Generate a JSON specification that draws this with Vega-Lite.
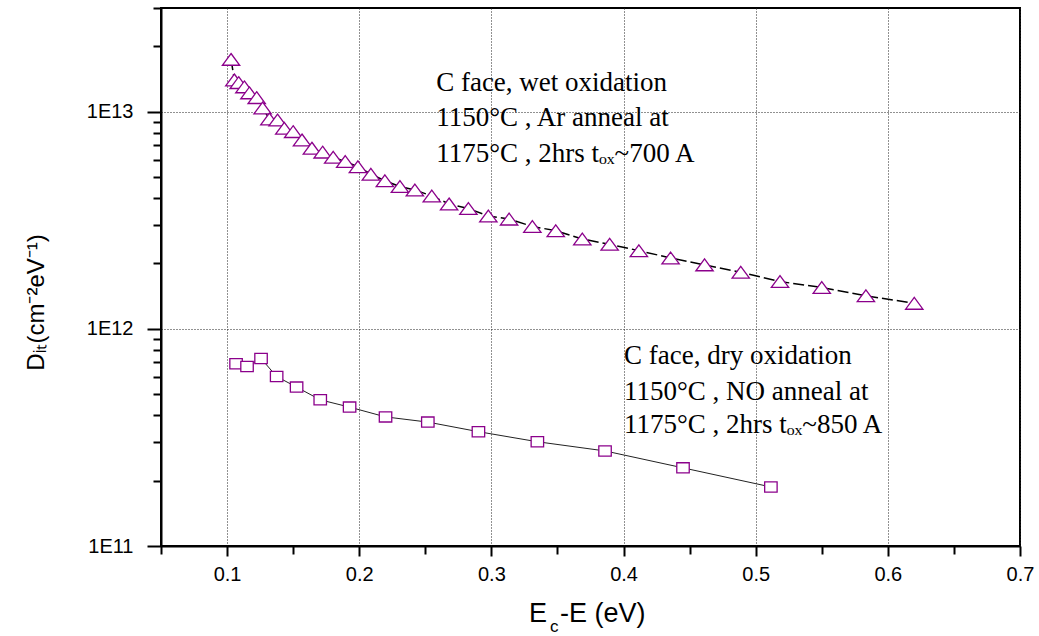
{
  "$schema": "https://vega.github.io/schema/vega-lite/v6.json",
  "width": 859,
  "height": 538,
  "autosize": {"type": "none"},
  "padding": {"left": 161, "top": 8, "right": 19, "bottom": 90},
  "background": "white",
  "config": {
    "view": {"stroke": "black", "strokeWidth": 2},
    "axis": {
      "domainColor": "black",
      "domainWidth": 2,
      "tickColor": "black",
      "tickWidth": 2,
      "labelFont": "Liberation Sans",
      "labelFontSize": 20,
      "labelColor": "black",
      "gridColor": "#222",
      "gridDash": [1, 2],
      "gridWidth": 1
    }
  },
  "datasets": {
    "dit": [
      {"series": "wet", "E": 0.1030, "Dit": 1.74e13},
      {"series": "wet", "E": 0.1055, "Dit": 1.40e13},
      {"series": "wet", "E": 0.1088, "Dit": 1.36e13},
      {"series": "wet", "E": 0.1131, "Dit": 1.30e13},
      {"series": "wet", "E": 0.1169, "Dit": 1.22e13},
      {"series": "wet", "E": 0.1224, "Dit": 1.16e13},
      {"series": "wet", "E": 0.1269, "Dit": 1.04e13},
      {"series": "wet", "E": 0.1320, "Dit": 9.25e12},
      {"series": "wet", "E": 0.1382, "Dit": 9.16e12},
      {"series": "wet", "E": 0.1433, "Dit": 8.39e12},
      {"series": "wet", "E": 0.1500, "Dit": 8.09e12},
      {"series": "wet", "E": 0.1567, "Dit": 7.41e12},
      {"series": "wet", "E": 0.1642, "Dit": 6.79e12},
      {"series": "wet", "E": 0.1723, "Dit": 6.51e12},
      {"series": "wet", "E": 0.1803, "Dit": 6.17e12},
      {"series": "wet", "E": 0.1894, "Dit": 5.89e12},
      {"series": "wet", "E": 0.1990, "Dit": 5.58e12},
      {"series": "wet", "E": 0.2088, "Dit": 5.15e12},
      {"series": "wet", "E": 0.2194, "Dit": 4.81e12},
      {"series": "wet", "E": 0.2308, "Dit": 4.52e12},
      {"series": "wet", "E": 0.2421, "Dit": 4.36e12},
      {"series": "wet", "E": 0.2549, "Dit": 4.09e12},
      {"series": "wet", "E": 0.2680, "Dit": 3.76e12},
      {"series": "wet", "E": 0.2826, "Dit": 3.58e12},
      {"series": "wet", "E": 0.2977, "Dit": 3.31e12},
      {"series": "wet", "E": 0.3134, "Dit": 3.20e12},
      {"series": "wet", "E": 0.3310, "Dit": 2.96e12},
      {"series": "wet", "E": 0.3487, "Dit": 2.83e12},
      {"series": "wet", "E": 0.3688, "Dit": 2.59e12},
      {"series": "wet", "E": 0.3895, "Dit": 2.45e12},
      {"series": "wet", "E": 0.4116, "Dit": 2.29e12},
      {"series": "wet", "E": 0.4356, "Dit": 2.12e12},
      {"series": "wet", "E": 0.4613, "Dit": 1.97e12},
      {"series": "wet", "E": 0.4887, "Dit": 1.82e12},
      {"series": "wet", "E": 0.5184, "Dit": 1.65e12},
      {"series": "wet", "E": 0.5500, "Dit": 1.55e12},
      {"series": "wet", "E": 0.5834, "Dit": 1.42e12},
      {"series": "wet", "E": 0.6200, "Dit": 1.31e12},
      {"series": "dry", "E": 0.1068, "Dit": 6.90e11},
      {"series": "dry", "E": 0.1151, "Dit": 6.71e11},
      {"series": "dry", "E": 0.1257, "Dit": 7.30e11},
      {"series": "dry", "E": 0.1375, "Dit": 6.03e11},
      {"series": "dry", "E": 0.1526, "Dit": 5.39e11},
      {"series": "dry", "E": 0.1705, "Dit": 4.71e11},
      {"series": "dry", "E": 0.1927, "Dit": 4.36e11},
      {"series": "dry", "E": 0.2199, "Dit": 3.93e11},
      {"series": "dry", "E": 0.2519, "Dit": 3.72e11},
      {"series": "dry", "E": 0.2902, "Dit": 3.36e11},
      {"series": "dry", "E": 0.3348, "Dit": 3.02e11},
      {"series": "dry", "E": 0.3860, "Dit": 2.74e11},
      {"series": "dry", "E": 0.4450, "Dit": 2.29e11},
      {"series": "dry", "E": 0.5115, "Dit": 1.87e11}
    ],
    "notes": [
      {"E": 0.2582, "Dit": 1.246e13, "t": "C face, wet oxidation"},
      {"E": 0.2582, "Dit": 8.55e12, "t": "1150°C , Ar anneal at"},
      {"E": 0.2582, "Dit": 5.87e12, "t": "1175°C , 2hrs tₒₓ~700 A"},
      {"E": 0.4003, "Dit": 6.88e11, "t": "C face, dry oxidation"},
      {"E": 0.4003, "Dit": 4.71e11, "t": "1150°C , NO anneal at"},
      {"E": 0.4003, "Dit": 3.31e11, "t": "1175°C , 2hrs tₒₓ~850 A"}
    ],
    "xtitle": [
      {"part": "main1", "E": 0.3284, "Dit": 1e11, "t": "E"},
      {"part": "sub", "E": 0.3443, "Dit": 1e11, "t": "c"},
      {"part": "main2", "E": 0.3519, "Dit": 1e11, "t": "-E (eV)"}
    ]
  },
  "encoding": {
    "x": {
      "field": "E",
      "type": "quantitative",
      "scale": {"domain": [0.05, 0.7], "nice": false, "zero": false},
      "axis": {
        "title": null,
        "values": [0.05, 0.1, 0.15, 0.2, 0.25, 0.3, 0.35, 0.4, 0.45, 0.5, 0.55, 0.6, 0.65, 0.7],
        "labelExpr": "(abs(datum.value*10 - round(datum.value*10)) < 0.01 && datum.value > 0.07) ? format(datum.value, '.1f') : ''",
        "grid": true,
        "gridOpacity": {"condition": {"test": "abs(datum.value*10 - round(datum.value*10)) < 0.01", "value": 1}, "value": 0},
        "tickSize": {"condition": {"test": "abs(datum.value*10 - round(datum.value*10)) < 0.01", "value": 10}, "value": 8},
        "labelPadding": 8,
        "labelFlush": false,
        "labelOverlap": false
      }
    },
    "y": {
      "field": "Dit",
      "type": "quantitative",
      "scale": {"type": "log", "domain": [1e11, 3e13], "nice": false},
      "axis": {
        "title": "Dᵢₜ(cm⁻²eV⁻¹)",
        "titleFont": "Liberation Sans",
        "titleFontSize": 24,
        "titleFontWeight": "normal",
        "titleColor": "black",
        "titleAngle": 270,
        "titleAlign": "center",
        "titleBaseline": "alphabetic",
        "titleX": -118,
        "titleY": 294,
        "values": [1e11, 2e11, 3e11, 4e11, 5e11, 6e11, 7e11, 8e11, 9e11, 1e12, 2e12, 3e12, 4e12, 5e12, 6e12, 7e12, 8e12, 9e12, 1e13, 2e13, 3e13],
        "labelExpr": "datum.value == 1e11 ? '1E11' : datum.value == 1e12 ? '1E12' : datum.value == 1e13 ? '1E13' : ''",
        "grid": true,
        "gridOpacity": {"condition": {"test": "datum.value == 1e11 || datum.value == 1e12 || datum.value == 1e13", "value": 1}, "value": 0},
        "tickSize": {"condition": {"test": "datum.value == 1e11 || datum.value == 1e12 || datum.value == 1e13", "value": 14}, "value": 8},
        "labelPadding": 14,
        "labelOverlap": false,
        "labelFlush": false
      }
    }
  },
  "layer": [
    {
      "data": {"name": "dit"},
      "transform": [{"filter": "datum.series == 'wet'"}],
      "mark": {"type": "line", "color": "black", "strokeWidth": 1.5, "strokeDash": [11, 4]},
      "encoding": {}
    },
    {
      "data": {"name": "dit"},
      "transform": [{"filter": "datum.series == 'dry'"}],
      "mark": {"type": "line", "color": "#222", "strokeWidth": 1},
      "encoding": {}
    },
    {
      "data": {"name": "dit"},
      "mark": {"type": "point", "filled": false, "fill": "white", "fillOpacity": 1, "stroke": "#8B008B", "strokeWidth": 1.3, "opacity": 1},
      "encoding": {
        "shape": {
          "field": "series",
          "type": "nominal",
          "scale": {"domain": ["wet", "dry"], "range": ["M0,-0.68L1,0.68L-1,0.68Z", "M-1,-0.82L1,-0.82L1,0.82L-1,0.82Z"]},
          "legend": null
        },
        "size": {
          "field": "series",
          "type": "nominal",
          "scale": {"domain": ["wet", "dry"], "range": [300, 155]},
          "legend": null
        }
      }
    },
    {
      "data": {"name": "notes"},
      "mark": {"type": "text", "align": "left", "baseline": "alphabetic", "font": "Liberation Serif", "fontSize": 27, "color": "black"},
      "encoding": {"text": {"field": "t", "type": "nominal"}}
    },
    {
      "data": {"name": "xtitle"},
      "transform": [{"filter": "datum.part != 'sub'"}],
      "mark": {"type": "text", "align": "left", "baseline": "alphabetic", "font": "Liberation Sans", "fontSize": 27, "color": "black", "dy": 76},
      "encoding": {"text": {"field": "t", "type": "nominal"}}
    },
    {
      "data": {"name": "xtitle"},
      "transform": [{"filter": "datum.part == 'sub'"}],
      "mark": {"type": "text", "align": "left", "baseline": "alphabetic", "font": "Liberation Sans", "fontSize": 17, "color": "black", "dy": 86},
      "encoding": {"text": {"field": "t", "type": "nominal"}}
    }
  ]
}
